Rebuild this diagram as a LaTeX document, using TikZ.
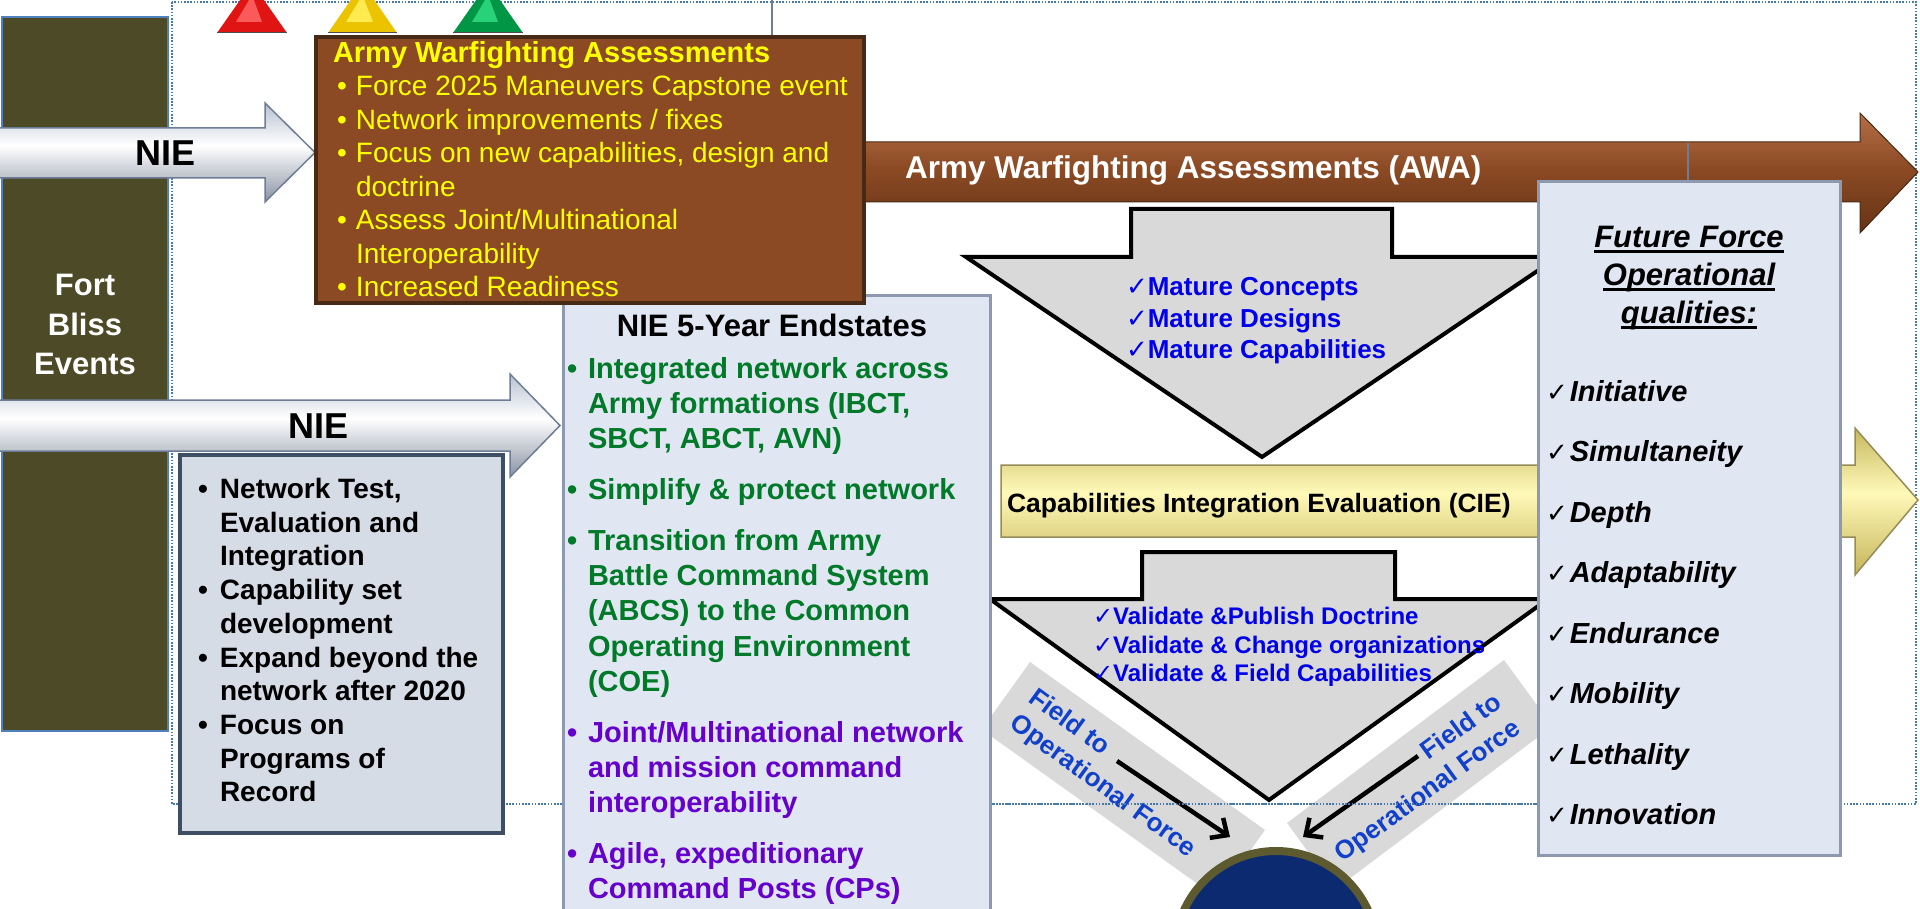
\documentclass[tikz,border=0pt]{standalone}
\usepackage{fontspec}
\setmainfont{Liberation Sans}
\newfontfamily\dejavu{DejaVu Sans}
\usetikzlibrary{arrows.meta}
\definecolor{olivebg}{RGB}{77,74,40}
\definecolor{fbborder}{RGB}{79,129,189}
\definecolor{brownmain}{RGB}{139,74,36}
\definecolor{browntop}{RGB}{180,110,70}
\definecolor{brownbot}{RGB}{100,50,20}
\definecolor{brownedge}{RGB}{70,42,22}
\definecolor{lightbox}{RGB}{224,231,242}
\definecolor{lightedge}{RGB}{140,153,176}
\definecolor{greybox}{RGB}{214,220,229}
\definecolor{greyedge}{RGB}{62,78,100}
\definecolor{arrowgrey}{RGB}{217,217,217}
\definecolor{bandgrey}{RGB}{217,217,217}
\definecolor{mblue}{RGB}{0,0,235}
\definecolor{fieldblue}{RGB}{16,64,204}
\definecolor{greentext}{RGB}{0,122,40}
\definecolor{purpletext}{RGB}{102,0,204}
\definecolor{frameblue}{RGB}{70,120,170}
\definecolor{yellowtext}{RGB}{255,255,0}
\definecolor{circfill}{RGB}{12,42,112}
\definecolor{circedge}{RGB}{92,90,46}
\definecolor{cietop}{RGB}{200,185,95}
\definecolor{ciemid}{RGB}{255,249,185}
\definecolor{ciebot}{RGB}{195,178,85}
\definecolor{cieedge}{RGB}{150,140,90}
\definecolor{niemid}{RGB}{255,255,255}
\definecolor{nietop}{RGB}{185,195,210}
\definecolor{niebot}{RGB}{130,140,158}
\definecolor{nieedge}{RGB}{110,125,150}
\definecolor{thinline}{RGB}{110,125,145}
\definecolor{trired}{RGB}{225,20,20}
\definecolor{triredhi}{RGB}{250,90,90}
\definecolor{triyel}{RGB}{235,195,0}
\definecolor{triyelhi}{RGB}{255,235,80}
\definecolor{trigrn}{RGB}{0,150,70}
\definecolor{trigrnhi}{RGB}{40,210,120}
\newcommand{\bulw}[1]{\makebox[#1][l]{•}}
\newcommand{\chk}{{\dejavu\mdseries ✓}}
\newsavebox{\ulbox}
\newcommand{\myul}[1]{\sbox{\ulbox}{#1}\rlap{\rule[-5pt]{\wd\ulbox}{2.5pt}}\usebox{\ulbox}}
% vertical gradient by strips: xl xr ytop ymid ybot ctop cmid cbot
\newcommand{\vgrad}[8]{%
  \pgfmathtruncatemacro\gna{max(1,(#4-#3)/2)}%
  \foreach \k in {0,...,\gna}{%
    \pgfmathsetmacro\gy{#3+(#4-#3)*\k/\gna}%
    \pgfmathtruncatemacro\gt{100*\k/\gna}%
    \fill[#7!\gt!#6] (#1,\gy) rectangle (#2,\gy+2.6);}%
  \pgfmathtruncatemacro\gnb{max(1,(#5-#4)/2)}%
  \foreach \k in {0,...,\gnb}{%
    \pgfmathsetmacro\gy{#4+(#5-#4)*\k/\gnb}%
    \pgfmathtruncatemacro\gt{100*\k/\gnb}%
    \fill[#8!\gt!#7] (#1,\gy) rectangle (#2,\gy+2.6);}%
}
\begin{document}
\begin{tikzpicture}[x=1pt,y=-1pt,
  every node/.style={inner sep=0pt,outer sep=0pt},
  framedots/.style={draw=frameblue,line width=2pt,dash pattern=on 1.6pt off 1.6pt},
  greyarrow/.style={fill=arrowgrey,draw=black,line width=4pt,line join=miter},
  infobox/.style={fill=lightbox,draw=lightedge,line width=3pt},
  nieline/.style={draw=nieedge,line width=1.5pt},
  band/.style={fill=bandgrey},
  fieldtxt/.style={text=fieldblue,font=\fontsize{26pt}{32pt}\selectfont\bfseries},
  fieldarrow/.style={draw=black,line width=4.5pt,-{Straight Barb[length=13pt,width=24pt,line width=4.5pt]}},
  ffitem/.style={anchor=base west,font=\fontsize{29pt}{35pt}\selectfont\bfseries\itshape},
  thin/.style={draw=thinline,line width=1.5pt},
  triedge/.style={draw=gray!60!black,line width=1pt}]
\useasboundingbox (0,0) rectangle (1920,909);
\clip (0,0) rectangle (1920,909);
\fill[white] (0,0) rectangle (1920,909);

% dotted frame
\draw[framedots] (172,2) rectangle (1916,804);
\draw[thin] (772,0) -- (772,37);

% Fort Bliss column
\draw[fill=olivebg,draw=fbborder,line width=2pt] (2,17) rectangle (168,731);
\node[anchor=base,text=white,font=\fontsize{31pt}{39.5pt}\selectfont\bfseries] (fb) at (85,296)
  {\begin{tabular}[t]{@{}c@{}}Fort\\Bliss\\Events\end{tabular}};

% triangles
\fill[trired] (217,33) -- (252,-17) -- (287,33) -- cycle;
\fill[triredhi] (236,22) -- (252,-5) -- (262,22) -- cycle;
\draw[triedge] (217,33) -- (287,33);
\fill[triyel] (328,33) -- (362.5,-17) -- (397,33) -- cycle;
\fill[triyelhi] (346,22) -- (362.5,-5) -- (373,22) -- cycle;
\draw[triedge] (328,33) -- (397,33);
\fill[trigrn] (453,33) -- (488,-17) -- (523,33) -- cycle;
\fill[trigrnhi] (472,22) -- (488,-5) -- (498,22) -- cycle;
\draw[triedge] (453,33) -- (523,33);

% NIE arrow 1
\begin{scope}
\clip (0,128) -- (265,128) -- (265,103) -- (315,152.5) -- (265,202) -- (265,178) -- (0,178) -- cycle;
\vgrad{0}{320}{103}{145}{204}{nietop}{niemid}{niebot}
\end{scope}
\draw[nieline] (0,128) -- (265,128) -- (265,103) -- (315,152.5) -- (265,202) -- (265,178) -- (0,178);
\node[anchor=base,font=\fontsize{36pt}{40pt}\selectfont\bfseries] (nie1) at (165.5,166) {NIE};

% AWA arrow
\begin{scope}
\clip (850,142) -- (1860,142) -- (1860,113) -- (1918,172) -- (1860,233) -- (1860,202) -- (850,202) -- cycle;
\vgrad{850}{1920}{113}{168}{235}{browntop}{brownmain}{brownbot}
\end{scope}
\draw[draw=brownedge,line width=1pt] (850,142) -- (1860,142) -- (1860,113) -- (1918,172) -- (1860,233) -- (1860,202) -- (850,202);
\node[anchor=base west,text=white,font=\fontsize{31.5pt}{36pt}\selectfont\bfseries] (awa) at (905,179) {Army Warfighting Assessments (AWA)};
\draw[thin] (1688,143) -- (1688,182);

% grey arrow 1
\draw[greyarrow] (1131,209) -- (1392,209) -- (1392,257) -- (1558,257) -- (1262,457) -- (966,257) -- (1131,257) -- cycle;
\node[anchor=base west,text=mblue,font=\fontsize{26pt}{31.5pt}\selectfont\bfseries] (mature) at (1126,296)
  {\begin{tabular}[t]{@{}l@{}}\chk Mature Concepts\\\chk Mature Designs\\\chk Mature Capabilities\end{tabular}};

% CIE arrow
\begin{scope}
\clip (1001,465) -- (1855,465) -- (1855,428) -- (1918,500) -- (1855,575) -- (1855,537) -- (1001,537) -- cycle;
\vgrad{1001}{1920}{428}{492}{577}{cietop}{ciemid}{ciebot}
\end{scope}
\draw[draw=cieedge,line width=1.5pt] (1001,465) -- (1855,465) -- (1855,428) -- (1918,500) -- (1855,575) -- (1855,537) -- (1001,537) -- cycle;
\node[anchor=base west,font=\fontsize{26.5pt}{30pt}\selectfont\bfseries] (cie) at (1007,512) {Capabilities Integration Evaluation (CIE)};

% grey arrow 2
\draw[greyarrow] (1142,552) -- (1395,552) -- (1395,599) -- (1548,599) -- (1269,800) -- (990,599) -- (1142,599) -- cycle;
\node[anchor=base west,text=mblue,font=\fontsize{24pt}{28.5pt}\selectfont\bfseries] (valid) at (1093,624.5)
  {\begin{tabular}[t]{@{}l@{}}\chk Validate \&Publish Doctrine\\\chk Validate \& Change organizations\\\chk Validate \& Field Capabilities\end{tabular}};

% bands
\fill[band] (1030,662) -- (1265,830) -- (1216.7,897.5) -- (981.7,729.5) -- cycle;
\fill[band] (1504,660) -- (1287,823) -- (1335.5,889.2) -- (1552.5,726.2) -- cycle;
\node[fieldtxt,align=left,rotate=-36] (fieldL) at (1112,774) {Field to\\Operational Force};
\node[fieldtxt,align=right,rotate=36] (fieldR) at (1419,779) {Field to\\Operational Force};
\coordinate (la1) at (1117,761);
\coordinate (la2) at (1230,837);
\coordinate (ra1) at (1418,756);
\coordinate (ra2) at (1303,837);
\draw[fieldarrow] (la1) -- (la2);
\draw[fieldarrow] (ra1) -- (ra2);
\draw[framedots] (990,804) -- (1538,804);

% circle
\draw[fill=circfill,draw=circedge,line width=8pt] (1276,952) circle[radius=101pt];

% brown box
\draw[fill=brownmain,draw=brownedge,line width=4pt] (316,37) rectangle (864,303);
\node[anchor=base west,text=yellowtext,font=\fontsize{28pt}{33.5pt}\selectfont] (awabox) at (333,62.5)
  {\begin{tabular}[t]{@{}l@{}}
  {\fontsize{29pt}{33.5pt}\selectfont\bfseries Army Warfighting Assessments}\\
  \hspace*{4pt}\bulw{19pt}Force 2025 Maneuvers Capstone event\\
  \hspace*{4pt}\bulw{19pt}Network improvements / fixes\\
  \hspace*{4pt}\bulw{19pt}Focus on new capabilities, design and\\
  \hspace*{23pt}doctrine\\
  \hspace*{4pt}\bulw{19pt}Assess Joint/Multinational\\
  \hspace*{23pt}Interoperability
  \end{tabular}};

% endstates box, then bottom strip of brown box over it
\draw[infobox] (563,296) rectangle (990,920);
\fill[brownmain] (318,280) rectangle (862,301);
\draw[draw=brownedge,line width=4pt] (316,260) -- (316,303) -- (864,303) -- (864,260);
\node[anchor=base west,text=yellowtext,font=\fontsize{28pt}{33.5pt}\selectfont] (lastline) at (337,296.5)
  {\bulw{19pt}Increased Readiness};
\node[anchor=base,font=\fontsize{31pt}{36pt}\selectfont\bfseries] (endtitle) at (772,337) {NIE 5-Year Endstates};
\node[anchor=base west,font=\fontsize{29pt}{35.3pt}\selectfont\bfseries] (endit) at (567,378)
  {\begin{tabular}[t]{@{}l@{}}
  \color{greentext}\bulw{21pt}Integrated network across\\
  \color{greentext}\hspace*{21pt}Army formations (IBCT,\\
  \color{greentext}\hspace*{21pt}SBCT, ABCT, AVN)\\[15.5pt]
  \color{greentext}\bulw{21pt}Simplify \& protect network\\[15.5pt]
  \color{greentext}\bulw{21pt}Transition from Army\\
  \color{greentext}\hspace*{21pt}Battle Command System\\
  \color{greentext}\hspace*{21pt}(ABCS) to the Common\\
  \color{greentext}\hspace*{21pt}Operating Environment\\
  \color{greentext}\hspace*{21pt}(COE)\\[15.5pt]
  \color{purpletext}\bulw{21pt}Joint/Multinational network\\
  \color{purpletext}\hspace*{21pt}and mission command\\
  \color{purpletext}\hspace*{21pt}interoperability\\[15.5pt]
  \color{purpletext}\bulw{21pt}Agile, expeditionary\\
  \color{purpletext}\hspace*{21pt}Command Posts (CPs)
  \end{tabular}};

% Future Force box
\draw[infobox] (1538,182) rectangle (1840,855);
\node[anchor=base,font=\fontsize{31pt}{38pt}\selectfont\bfseries\itshape] (fftitle) at (1689,248)
  {\begin{tabular}[t]{@{}c@{}}\myul{Future Force}\\\myul{Operational}\\\myul{qualities:}\end{tabular}};
\foreach \w [count=\i from 0] in {Initiative,Simultaneity,Depth,Adaptability,Endurance,Mobility,Lethality,Innovation}
  \node[ffitem] (ff\i) at (1546,401+60.5*\i) {{\dejavu\mdseries\upshape\fontsize{26pt}{28pt}\selectfont ✓}\hspace{2pt}\w};

% NIE arrow 2
\begin{scope}
\clip (0,400) -- (510,400) -- (510,374) -- (560,425.5) -- (510,477) -- (510,451) -- (0,451) -- cycle;
\vgrad{0}{565}{374}{418}{479}{nietop}{niemid}{niebot}
\end{scope}
\draw[nieline] (0,400) -- (510,400) -- (510,374) -- (560,425.5) -- (510,477) -- (510,451) -- (0,451);
\node[anchor=base,font=\fontsize{36pt}{40pt}\selectfont\bfseries] (nie2) at (319,438) {NIE};

% network box
\draw[fill=greybox,draw=greyedge,line width=3.5pt] (180,455) rectangle (503,833);
\node[anchor=base west,font=\fontsize{28pt}{33.7pt}\selectfont\bfseries] (netbox) at (198,498.5)
  {\begin{tabular}[t]{@{}l@{}}
  \bulw{22pt}Network Test,\\
  \hspace*{22pt}Evaluation and\\
  \hspace*{22pt}Integration\\
  \bulw{22pt}Capability set\\
  \hspace*{22pt}development\\
  \bulw{22pt}Expand beyond the\\
  \hspace*{22pt}network after 2020\\
  \bulw{22pt}Focus on\\
  \hspace*{22pt}Programs of\\
  \hspace*{22pt}Record
  \end{tabular}};
\end{tikzpicture}
\end{document}
